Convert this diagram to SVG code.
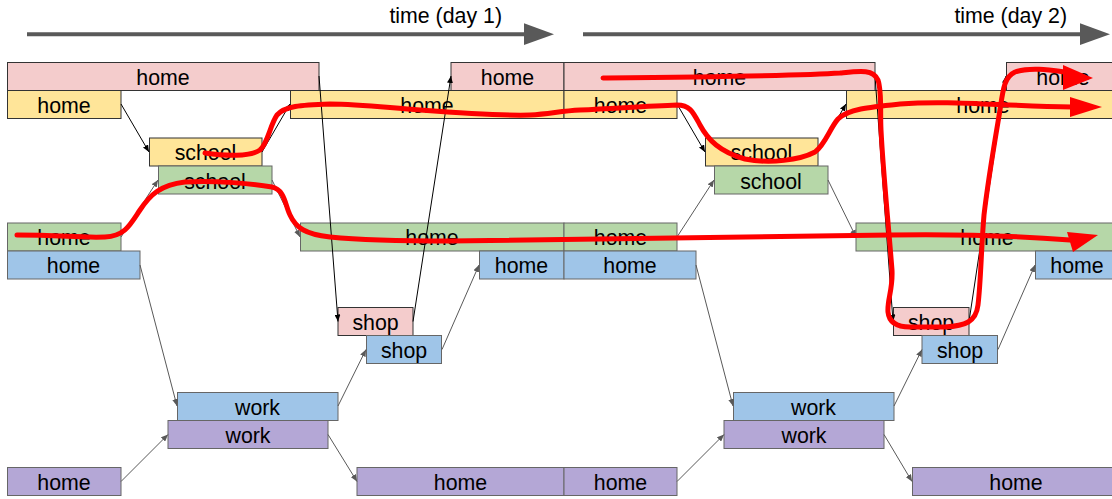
<svg xmlns="http://www.w3.org/2000/svg" width="1112" height="499" viewBox="0 0 1112 499">
  <style>
    .lbl { font-family: "Liberation Sans", Arial, sans-serif; font-size: 21.33px; fill: #000; text-anchor: middle; }
    .time { font-family: "Liberation Sans", Arial, sans-serif; font-size: 21.33px; fill: #000; text-anchor: end; }
    .pink { fill: #f4cccc; stroke: #333; stroke-width: 1; }
    .yellow { fill: #ffe599; stroke: #333; stroke-width: 1; }
    .green { fill: #b6d7a8; stroke: #666; stroke-width: 1; }
    .blue { fill: #9fc5e8; stroke: #666; stroke-width: 1; }
    .purple { fill: #b4a7d6; stroke: #666; stroke-width: 1; }
    .cb { stroke: #000; stroke-width: 1; fill: none; marker-end: url(#ahB); }
    .cg { stroke: #595959; stroke-width: 1; fill: none; marker-end: url(#ahG); }
    .trail { stroke: #ff0000; stroke-width: 5; fill: none; stroke-linecap: round; stroke-linejoin: round; }
    .trailhead { fill: #ff0000; }
    .axis { stroke: #595959; stroke-width: 4; }
    .axishead { fill: #595959; }
  </style>
  <defs>
    <marker id="ahB" markerUnits="userSpaceOnUse" markerWidth="8" markerHeight="6" refX="7" refY="3" orient="auto">
      <path d="M0,0 L7,3 L0,6 z" fill="#000"/>
    </marker>
    <marker id="ahG" markerUnits="userSpaceOnUse" markerWidth="8" markerHeight="6" refX="7" refY="3" orient="auto">
      <path d="M0,0 L7,3 L0,6 z" fill="#595959"/>
    </marker>
  </defs>

  <!-- time axes -->
  <g id="axis-day1">
    <line class="axis" x1="27" y1="34.2" x2="526" y2="34.2"/>
    <polygon class="axishead" points="524,23.3 554,34.2 524,45"/>
    <text class="time" x="502" y="22.5">time (day 1)</text>
  </g>
  <g id="axis-day2">
    <line class="axis" x1="583" y1="34.2" x2="1082" y2="34.2"/>
    <polygon class="axishead" points="1080,23.3 1110,34.2 1080,45"/>
    <text class="time" x="1067" y="22.5">time (day 2)</text>
  </g>

  <!-- pink row -->
  <g id="pink-home-1"><rect class="pink" x="7.5" y="62.5" width="311.5" height="28"/><text class="lbl" x="163" y="84.5">home</text></g>
  <g id="pink-home-2"><rect class="pink" x="451" y="62.5" width="113" height="28"/><text class="lbl" x="507.5" y="84.5">home</text></g>
  <g id="pink-home-3"><rect class="pink" x="564" y="62.5" width="311" height="28"/><text class="lbl" x="719.5" y="84.5">home</text></g>
  <g id="pink-home-4"><rect class="pink" x="1006.5" y="62.5" width="113" height="28"/><text class="lbl" x="1063" y="84.5">home</text></g>

  <!-- yellow row -->
  <g id="yellow-home-1"><rect class="yellow" x="7.5" y="90.5" width="113.5" height="28"/><text class="lbl" x="64" y="112.5">home</text></g>
  <g id="yellow-home-2"><rect class="yellow" x="290.5" y="90.5" width="273.5" height="28"/><text class="lbl" x="427" y="112.5">home</text></g>
  <g id="yellow-home-3"><rect class="yellow" x="564" y="90.5" width="113" height="28"/><text class="lbl" x="620.5" y="112.5">home</text></g>
  <g id="yellow-home-4"><rect class="yellow" x="846.5" y="90.5" width="274" height="28"/><text class="lbl" x="983" y="112.5">home</text></g>
  <g id="yellow-school-1"><rect class="yellow" x="149.5" y="138" width="112.5" height="28"/><text class="lbl" x="205.5" y="160">school</text></g>
  <g id="yellow-school-2"><rect class="yellow" x="705.5" y="138" width="112.5" height="28"/><text class="lbl" x="761.5" y="160">school</text></g>

  <!-- green row -->
  <g id="green-school-1"><rect class="green" x="158.5" y="166" width="113.5" height="28"/><text class="lbl" x="215" y="188.5">school</text></g>
  <g id="green-school-2"><rect class="green" x="714.5" y="166" width="113.5" height="28"/><text class="lbl" x="771" y="188.5">school</text></g>
  <g id="green-home-1"><rect class="green" x="7.5" y="223" width="113.5" height="28"/><text class="lbl" x="64" y="245">home</text></g>
  <g id="green-home-2"><rect class="green" x="300.5" y="223" width="263.5" height="28"/><text class="lbl" x="432" y="245">home</text></g>
  <g id="green-home-3"><rect class="green" x="564" y="223" width="113" height="28"/><text class="lbl" x="620.5" y="245">home</text></g>
  <g id="green-home-4"><rect class="green" x="856" y="223" width="263" height="28"/><text class="lbl" x="987" y="245">home</text></g>

  <!-- blue row -->
  <g id="blue-home-1"><rect class="blue" x="7.5" y="251" width="132.5" height="28"/><text class="lbl" x="73.5" y="273">home</text></g>
  <g id="blue-home-2"><rect class="blue" x="479.5" y="251" width="84.5" height="28"/><text class="lbl" x="521.5" y="273">home</text></g>
  <g id="blue-home-3"><rect class="blue" x="564" y="251" width="132" height="28"/><text class="lbl" x="630" y="273">home</text></g>
  <g id="blue-home-4"><rect class="blue" x="1035.5" y="251" width="84" height="28"/><text class="lbl" x="1077" y="273">home</text></g>

  <!-- shop -->
  <g id="pink-shop-1"><rect class="pink" x="338" y="307.5" width="75" height="28"/><text class="lbl" x="375.5" y="329.5">shop</text></g>
  <g id="pink-shop-2"><rect class="pink" x="893.5" y="307.5" width="75.5" height="28"/><text class="lbl" x="931" y="329.5">shop</text></g>
  <g id="blue-shop-1"><rect class="blue" x="366.5" y="335.5" width="75" height="28"/><text class="lbl" x="404" y="357.5">shop</text></g>
  <g id="blue-shop-2"><rect class="blue" x="922" y="335.5" width="75.5" height="28"/><text class="lbl" x="960" y="357.5">shop</text></g>

  <!-- work -->
  <g id="blue-work-1"><rect class="blue" x="177.5" y="392.5" width="160.5" height="28"/><text class="lbl" x="257.5" y="414.5">work</text></g>
  <g id="blue-work-2"><rect class="blue" x="733.5" y="392.5" width="160.5" height="28"/><text class="lbl" x="813.5" y="414.5">work</text></g>
  <g id="purple-work-1"><rect class="purple" x="168" y="420.5" width="160" height="28"/><text class="lbl" x="248" y="442.5">work</text></g>
  <g id="purple-work-2"><rect class="purple" x="724" y="420.5" width="160" height="28"/><text class="lbl" x="804" y="442.5">work</text></g>

  <!-- purple row -->
  <g id="purple-home-1"><rect class="purple" x="7.5" y="467.5" width="113.5" height="28"/><text class="lbl" x="64" y="489.5">home</text></g>
  <g id="purple-home-2"><rect class="purple" x="357" y="467.5" width="207" height="28"/><text class="lbl" x="460.5" y="489.5">home</text></g>
  <g id="purple-home-3"><rect class="purple" x="564" y="467.5" width="113" height="28"/><text class="lbl" x="620.5" y="489.5">home</text></g>
  <g id="purple-home-4"><rect class="purple" x="912.5" y="467.5" width="208" height="28"/><text class="lbl" x="1016" y="489.5">home</text></g>

  <!-- connectors between activities -->
  <g id="connectors">
    <line class="cb" x1="121" y1="104" x2="149" y2="152"/>
    <line class="cb" x1="262" y1="152" x2="290" y2="104"/>
    <line class="cb" x1="677" y1="104" x2="705" y2="152"/>
    <line class="cb" x1="818" y1="152" x2="846" y2="104"/>
    <line class="cb" x1="319" y1="76" x2="338" y2="321.5"/>
    <line class="cb" x1="413" y1="321.5" x2="451" y2="76"/>
    <line class="cb" x1="875" y1="76" x2="893" y2="321.5"/>
    <line class="cb" x1="969" y1="321.5" x2="1006" y2="76"/>

    <line class="cg" x1="121" y1="237" x2="158" y2="180"/>
    <line class="cg" x1="272" y1="180" x2="300" y2="237"/>
    <line class="cg" x1="677" y1="237" x2="714" y2="180"/>
    <line class="cg" x1="828" y1="180" x2="856" y2="237"/>

    <line class="cg" x1="140" y1="265" x2="177" y2="406"/>
    <line class="cg" x1="338" y1="406" x2="366" y2="349.5"/>
    <line class="cg" x1="442" y1="349.5" x2="479" y2="265"/>
    <line class="cg" x1="696" y1="265" x2="733" y2="406"/>
    <line class="cg" x1="894" y1="406" x2="922" y2="349.5"/>
    <line class="cg" x1="998" y1="349.5" x2="1035" y2="265"/>

    <line class="cg" x1="121" y1="481.5" x2="168" y2="434.5"/>
    <line class="cg" x1="328" y1="434.5" x2="357" y2="481.5"/>
    <line class="cg" x1="677" y1="481.5" x2="724" y2="434.5"/>
    <line class="cg" x1="884" y1="434.5" x2="912" y2="481.5"/>
  </g>

  <!-- hand-drawn red trails -->
  <g id="trails">
    <path class="trail" d="M17,235 C60,235 80,238 105,237 C125,236 130,225 140,210 C150,195 160,185 185,182 C215,180 255,184 272,187 C285,190 285,205 290,215 C296,228 305,234 330,237 C360,240 400,241 450,241 C560,240 700,238 890,235 C960,234 1020,236 1070,240"/>
    <polygon class="trailhead" points="1067,232 1098,235 1073,252"/>

    <path class="trail" d="M205,153 C225,156 250,157 260,150 C268,143 270,125 277,115 C285,106 300,105 330,104 C360,104 390,108 420,110 C460,113 500,116 530,115 C550,114 560,111 580,110 C620,108 650,106 677,105 C690,105 693,112 700,125 C708,140 720,152 745,159 C770,164 800,160 815,152 C825,145 830,128 838,119 C848,109 870,107 900,104 C950,100 1000,106 1072,107"/>
    <polygon class="trailhead" points="1070,97 1102,107 1070,117"/>

    <path class="trail" d="M603,78 C700,77 800,76 840,73 C860,71 873,69 878,80 C882,92 880,110 881,130 C883,170 888,220 892,270 C893,290 887,300 888,312 C889,322 897,327 910,327 L945,327 C965,326 976,322 978,305 C981,280 981,250 984,215 C988,180 995,140 1000,110 C1003,90 1004,77 1015,72 C1030,67 1050,70 1065,72"/>
    <polygon class="trailhead" points="1063,65 1093,78 1063,90"/>
  </g>
</svg>
